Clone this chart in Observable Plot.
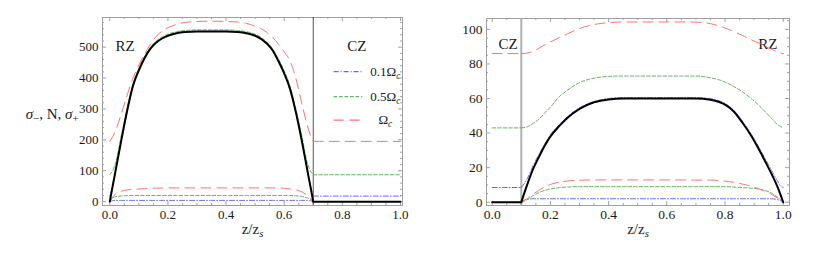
<!DOCTYPE html>
<html><head><meta charset="utf-8">
<script src="https://cdn.jsdelivr.net/npm/d3@7"></script>
<script src="https://cdn.jsdelivr.net/npm/@observablehq/plot@0.6"></script>
<style>
body{margin:0;background:#fff;}
#wrap{position:relative;width:830px;height:260px;overflow:hidden;}
#wrap svg{position:absolute;top:0;}
</style></head><body><div id="wrap"></div>
<script>
// ---------- data: left panel (RZ 0..0.7, CZ 0.7..1) ----------
const leftZ = [0,0.01,0.02,0.04,0.06,0.08,0.10,0.12,0.14,0.16,0.18,0.20,0.23,0.26,0.30,0.35,0.40,0.44,0.47,0.50,0.52,0.54,0.56,0.58,0.60,0.62,0.64,0.66,0.68,0.69,0.70];
const leftN = [0,50,100,200,295,375,425,465,495,515,528,537,545,549,551,551,551,549,545,537,527,512,490,455,415,365,290,200,100,50,0];
const leftPlus01 = [18,53,102,201,296,376,426,466,496,516,529,538,546,550,552,552,552,550,546,538,528,513,491,456,416,366,291,201,101,53,18];
const leftMinus01 = [0,3,4,4,4,4,4,4,4,4,4,4,4,4,4,4,4,4,4,4,4,4,4,4,4,4,4,4,4,3,0];
const leftPlus05 = [88,100,125,215,305,383,432,471,500,520,533,542,550,554,556,556,556,554,550,542,532,517,495,462,423,374,300,215,125,100,88];
const leftMinus05 = [0,12,16,18.5,19.5,20,20,20,20,20,20,20,20,20,20,20,20,20,20,20,20,20,20,20,20,20,19,17,12,7,0];
const leftPlus1 = [195,210,230,285,345,400,442,478,510,535,552,563,574,580,583,584,583,581,577,568,560,548,532,510,485,455,400,320,245,215,195];
const leftMinus1 = [0,15,25,34,38,40,41,42,43,44,44,44.5,44.5,44.5,44.5,44.5,44.5,44.5,44.5,44.5,44.5,44.5,44.5,44,43,41,38,32,20,12,0];
const leftCZZ = [0.7,1.0];
const leftCZN = [0,0];
const leftCZPlus01 = [18,18];
const leftCZPlus05 = [87,87];
const leftCZPlus1 = [195,195];

// ---------- data: right panel (CZ 0..0.1, RZ 0.1..1) ----------
const rightZ = [0.10,0.12,0.14,0.16,0.18,0.20,0.23,0.26,0.30,0.35,0.40,0.45,0.50,0.55,0.60,0.65,0.70,0.75,0.78,0.80,0.83,0.86,0.89,0.92,0.94,0.96,0.98,0.99,1.00];
const rightN = [0,10,19,26,32.5,38,44,49,54,57.8,59.5,60,60,60,60,60,60,59.3,58,56.5,52.5,46,38.5,29.5,23,16.3,9,4.7,0];
const rightPlus01 = [8.5,13.5,21,27.5,33.5,39,44.8,49.7,54.6,58.3,60,60.5,60.5,60.5,60.5,60.5,60.5,59.9,58.7,57.2,53.2,46.8,39.4,30.7,24.5,18.4,12.4,9.7,8.5];
const rightMinus01 = [0,1.8,2,2,2,2,2,2,2,2,2,2,2,2,2,2,2,2,2,2,2,2,2,2,2,2,1.5,1,0];
const rightPlus05 = [43,43.6,45.5,48,51.5,55,61,65,69.2,71.8,72.8,73,73,73,73,73,73,72,70.8,69.5,67,63.8,60,55.5,52,48.5,45,44,43];
const rightMinus05 = [0,1.5,3.8,5.5,6.8,7.7,8.4,8.8,9,9,9,9,9,9,9,9,9,9,9,9,8.8,8.5,8.1,7.5,6.6,5.3,3,1.6,0];
const rightPlus1 = [86,86.3,87.3,89,91,92.7,95.2,97.5,100.5,102.8,103.9,104.3,104.3,104.3,104.3,104.3,104.2,103.3,102,100.8,98.8,96.5,94,91.8,90,88.5,87,86.4,86];
const rightMinus1 = [0,2,4.5,6.8,8.8,10.3,11.6,12.3,12.7,12.9,12.9,12.9,12.9,12.9,12.9,12.9,12.8,12.8,12.5,12.2,11.5,10.5,9.2,7.5,6.2,4.5,2.4,1.2,0];
const rightCZZ = [0,0.1];
const rightCZN = [0,0];
const rightCZPlus01 = [8.5,8.5];
const rightCZPlus05 = [43,43];
const rightCZPlus1 = [86,86];

// ---------- ticks / labels ----------
const xMajor = [0,0.2,0.4,0.6,0.8,1.0];
const xTickLabels = ["0.0","0.2","0.4","0.6","0.8","1.0"];
const leftYMajor = [0,100,200,300,400,500];
const rightYMajor = [0,20,40,60,80,100];
const legendLabels = ["0.1Ω_c","0.5Ω_c","Ω_c"];

// ---------- styles ----------
const FONT = "Liberation Serif, Times New Roman, serif";
const FRAME = "#a0a0a0";
const STY = {
  N:   {stroke:"#000", strokeWidth:2},
  b:   {stroke:"#6a6ae6", strokeWidth:1, strokeDasharray:"5,2,1,2"},
  g:   {stroke:"#5fb45f", strokeWidth:1, strokeDasharray:"3.5,2"},
  r:   {stroke:"#ff6f6f", strokeWidth:1, strokeDasharray:"10,6"}
};

const RICH = {
  "sigma-label": [["σ","i"],["−","sub"],[", N, ",""],["σ","i"],["+","sub"]],
  "z/z_s": [["z/z",""],["s","isub"]],
  "0.1Ω_c": [["0.1Ω",""],["c","isub"]],
  "0.5Ω_c": [["0.5Ω",""],["c","isub"]],
  "Ω_c": [["Ω",""],["c","isub"]]
};
function enrich(svg){
  d3.select(svg).selectAll("text").each(function(){
    const spec = RICH[this.textContent];
    if(!spec) return;
    this.textContent = "";
    let shifted = false;
    for(const [t,k] of spec){
      const ts = document.createElementNS("http://www.w3.org/2000/svg","tspan");
      ts.textContent = t;
      const sub = k.includes("sub");
      if(sub && !shifted){ ts.setAttribute("dy","3"); shifted = true; }
      else if(!sub && shifted){ ts.setAttribute("dy","-3"); shifted = false; }
      if(sub) ts.setAttribute("font-size","72%");
      if(k.includes("i")) ts.setAttribute("font-style","italic");
      this.appendChild(ts);
    }
  });
}

const rows = (zs, vs) => zs.map((z,i)=>({z, v:vs[i]}));
const line = (zs, vs, s) => Plot.line(rows(zs,vs), {x:"z", y:"v", curve:"monotone-x", ...s});

function panel(o){
  const kx = (o.xd[1]-o.xd[0])/(o.width-o.ml-o.mr);
  const ky = (o.yd[1]-o.yd[0])/(o.height-o.mt-o.mb);
  const xMinor = d3.range(0, 1.0001, 0.05).filter(v => !xMajor.some(m => Math.abs(m-v)<1e-6));
  const yMinor = d3.range(0, o.yd[1], o.yMinorStep).filter(v => !o.yMajor.some(m => Math.abs(m-v)<1e-6));
  const tickX = (vals,len) => [
    Plot.ruleX(vals,{x:d=>d, y1:()=>o.yd[0], y2:()=>o.yd[0]+len*ky, stroke:FRAME}),
    Plot.ruleX(vals,{x:d=>d, y1:()=>o.yd[1], y2:()=>o.yd[1]-len*ky, stroke:FRAME})
  ];
  const tickY = (vals,len) => [
    Plot.ruleY(vals,{y:d=>d, x1:()=>o.xd[0], x2:()=>o.xd[0]+len*kx, stroke:FRAME}),
    Plot.ruleY(vals,{y:d=>d, x1:()=>o.xd[1], x2:()=>o.xd[1]-len*kx, stroke:FRAME})
  ];
  const marks = [
    ...tickX(xMajor,4), ...tickX(xMinor,2), ...tickY(o.yMajor,4), ...tickY(yMinor,2),
    Plot.frame({stroke:FRAME}),
    Plot.ruleX([o.split], {stroke:o.splitColor, strokeWidth:o.splitWidth}),
    Plot.axisX(xMajor, {anchor:"bottom", tickSize:0, tickPadding:4, tickFormat:d=>xTickLabels[xMajor.indexOf(d)], fontSize:o.tickFont, label:null}),
    Plot.axisY(o.yMajor, {anchor:"left", tickSize:0, tickPadding:4, tickFormat:d=>String(d), fontSize:o.tickFont, label:null}),
    Plot.text(["z/z_s"], {frameAnchor:"bottom", dy:28, fontSize:15}),
    ...o.texts,
    ...o.series,
    ...(o.extra||[])
  ];
  const svg = Plot.plot({
    width:o.width, height:o.height, marginLeft:o.ml, marginRight:o.mr, marginTop:o.mt, marginBottom:o.mb,
    x:{domain:o.xd}, y:{domain:o.yd},
    style:{fontFamily:FONT, fontSize:"13px", color:"#1a1a1a", background:"transparent"},
    marks
  });
  enrich(svg);
  svg.style.left = o.left + "px";
  document.getElementById("wrap").appendChild(svg);
}

// legend (left panel) built from labels
const legendStyles = [STY.b, STY.g, STY.r];
const legendY = [421, 340, 264];
const legendMarks = legendLabels.flatMap((lab,i) => [
  Plot.link([lab], {x1:()=>0.77, x2:()=>0.869, y1:()=>legendY[i], y2:()=>legendY[i], ...legendStyles[i], strokeWidth:1.2}),
  Plot.text([lab], {x:()=>0.948, y:()=>legendY[i], fontSize:13, textAnchor:"middle"})
]);

panel({
  left:0, width:420, height:260, ml:102, mr:18, mt:17, mb:55, tickFont:13,
  xd:[-0.025,1.007], yd:[-12.5,596], yMajor:leftYMajor, yMinorStep:20,
  split:0.7, splitColor:"#555", splitWidth:1,
  texts:[
    Plot.text(["RZ"], {frameAnchor:"top-left", dx:13, dy:23, textAnchor:"start", fontSize:15}),
    Plot.text(["CZ"], {frameAnchor:"top-right", dx:-36, dy:23, textAnchor:"end", fontSize:15}),
    Plot.text(["sigma-label"], {frameAnchor:"left", dx:-24, dy:3, textAnchor:"end", fontSize:15})
  ],
  series:[
    line(leftZ,leftPlus01,STY.b), line(leftZ,leftMinus01,STY.b),
    line(leftCZZ,leftCZPlus01,STY.b),
    line(leftZ,leftPlus05,STY.g), line(leftZ,leftMinus05,STY.g),
    line(leftCZZ,leftCZPlus05,STY.g),
    line(leftZ,leftPlus1,STY.r), line(leftZ,leftMinus1,STY.r),
    line(leftCZZ,leftCZPlus1,STY.r),
    line(leftZ,leftN,STY.N), line(leftCZZ,leftCZN,STY.N)
  ],
  extra: legendMarks
});

panel({
  left:415, width:415, height:260, ml:71, mr:41, mt:18, mb:55, tickFont:13.5,
  xd:[-0.0196,1.0216], yd:[-1.9,106.3], yMajor:rightYMajor, yMinorStep:5,
  split:0.1, splitColor:"#b0b0b0", splitWidth:2,
  texts:[
    Plot.text(["CZ"], {frameAnchor:"top-left", dx:12, dy:20, textAnchor:"start", fontSize:15}),
    Plot.text(["RZ"], {frameAnchor:"top-right", dx:-12, dy:20, textAnchor:"end", fontSize:15})
  ],
  series:[
    line(rightZ,rightPlus01,STY.b), line(rightZ,rightMinus01,STY.b),
    line(rightCZZ,rightCZPlus01,STY.b),
    line(rightZ,rightPlus05,STY.g), line(rightZ,rightMinus05,STY.g),
    line(rightCZZ,rightCZPlus05,STY.g),
    line(rightZ,rightPlus1,STY.r), line(rightZ,rightMinus1,STY.r),
    line(rightCZZ,rightCZPlus1,STY.r),
    line(rightZ,rightN,STY.N), line(rightCZZ,rightCZN,STY.N)
  ]
});
</script>
</body></html>
